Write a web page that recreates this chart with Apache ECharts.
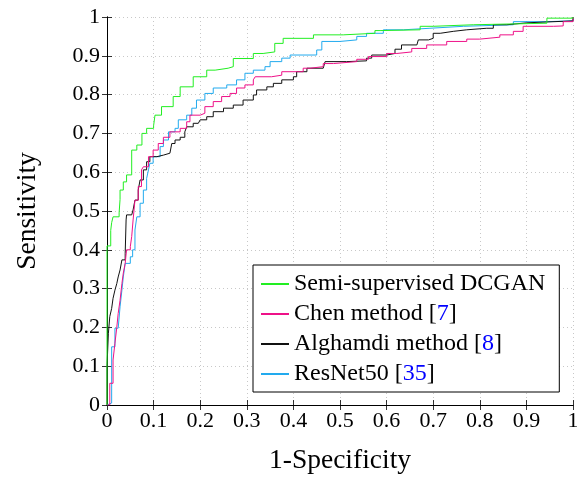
<!DOCTYPE html>
<html><head><meta charset="utf-8">
<script src="https://cdn.jsdelivr.net/npm/echarts@6/dist/echarts.min.js"></script>
<style>html,body{margin:0;padding:0;background:#fff}#c{width:577px;height:477px}</style>
</head><body><div id="c"></div>
<script>
const xTicks = [0,0.1,0.2,0.3,0.4,0.5,0.6,0.7,0.8,0.9,1];
const seriesNames = ['Semi-supervised DCGAN','Chen method [7]','Alghamdi method [8]','ResNet50 [35]'];
const dcgan = [[0,0],[0,0.17],[0,0.41],[0.003,0.41],[0.008,0.45],[0.01,0.47],[0.013,0.485],[0.026,0.495],[0.028,0.53],[0.028,0.554],[0.035,0.575],[0.042,0.593],[0.053,0.657],[0.064,0.67],[0.075,0.70],[0.085,0.713],[0.1,0.72],[0.103,0.747],[0.117,0.769],[0.142,0.795],[0.157,0.82],[0.185,0.846],[0.214,0.863],[0.232,0.868],[0.26,0.872],[0.271,0.893],[0.314,0.906],[0.335,0.91],[0.36,0.932],[0.378,0.945],[0.443,0.954],[0.507,0.958],[0.575,0.965],[0.586,0.967],[0.672,0.976],[0.7,0.98],[0.786,0.984],[0.944,0.997],[1,1]];
const chen = [[0,0],[0.006,0.056],[0.013,0.116],[0.017,0.159],[0.021,0.2],[0.024,0.236],[0.028,0.27],[0.032,0.313],[0.035,0.34],[0.039,0.365],[0.042,0.4],[0.05,0.408],[0.053,0.434],[0.056,0.477],[0.06,0.528],[0.067,0.563],[0.074,0.606],[0.078,0.614],[0.089,0.64],[0.099,0.657],[0.11,0.674],[0.121,0.69],[0.135,0.704],[0.157,0.713],[0.171,0.73],[0.178,0.747],[0.2,0.752],[0.21,0.769],[0.228,0.782],[0.246,0.795],[0.264,0.803],[0.278,0.817],[0.296,0.825],[0.314,0.838],[0.318,0.846],[0.353,0.85],[0.375,0.859],[0.421,0.868],[0.436,0.872],[0.464,0.88],[0.486,0.885],[0.536,0.891],[0.561,0.898],[0.6,0.906],[0.622,0.91],[0.654,0.919],[0.686,0.928],[0.729,0.937],[0.772,0.943],[0.8,0.948],[0.843,0.954],[0.872,0.963],[0.893,0.976],[0.958,0.977],[0.979,0.988],[1,1]];
const alghamdi = [[0,0],[0,0.1],[0.003,0.185],[0.006,0.228],[0.01,0.249],[0.013,0.275],[0.017,0.296],[0.021,0.313],[0.024,0.33],[0.028,0.348],[0.032,0.374],[0.039,0.39],[0.041,0.477],[0.042,0.49],[0.053,0.494],[0.056,0.503],[0.06,0.528],[0.067,0.554],[0.071,0.58],[0.078,0.606],[0.085,0.627],[0.092,0.64],[0.107,0.644],[0.121,0.649],[0.135,0.653],[0.139,0.674],[0.146,0.683],[0.157,0.69],[0.167,0.704],[0.171,0.717],[0.185,0.726],[0.196,0.73],[0.2,0.735],[0.214,0.743],[0.228,0.756],[0.25,0.765],[0.271,0.773],[0.292,0.786],[0.314,0.799],[0.321,0.812],[0.343,0.82],[0.357,0.829],[0.375,0.838],[0.4,0.846],[0.407,0.859],[0.429,0.868],[0.464,0.872],[0.468,0.885],[0.514,0.887],[0.557,0.894],[0.568,0.902],[0.6,0.906],[0.618,0.917],[0.632,0.928],[0.665,0.932],[0.668,0.941],[0.69,0.945],[0.7,0.958],[0.715,0.963],[0.743,0.967],[0.772,0.971],[0.815,0.971],[0.829,0.98],[0.858,0.985],[0.901,0.99],[1,1]];
const resnet = [[0,0],[0.001,0.005],[0.01,0.15],[0.017,0.198],[0.024,0.2],[0.028,0.253],[0.032,0.296],[0.035,0.33],[0.039,0.365],[0.05,0.382],[0.055,0.4],[0.06,0.451],[0.064,0.485],[0.071,0.52],[0.078,0.554],[0.085,0.584],[0.089,0.606],[0.092,0.623],[0.099,0.64],[0.114,0.666],[0.121,0.683],[0.132,0.704],[0.146,0.713],[0.153,0.735],[0.171,0.747],[0.182,0.765],[0.192,0.786],[0.21,0.803],[0.228,0.817],[0.257,0.825],[0.278,0.838],[0.296,0.855],[0.314,0.863],[0.339,0.872],[0.35,0.885],[0.375,0.894],[0.393,0.902],[0.45,0.915],[0.461,0.937],[0.5,0.941],[0.536,0.95],[0.557,0.958],[0.586,0.958],[0.593,0.967],[0.636,0.971],[0.693,0.976],[0.765,0.98],[0.872,0.988],[0.944,0.99],[1,1]];

const FONT = 'Liberation Serif';
const colors = ['#22ee22','#ee1188','#111111','#22aaee'];
const chart = echarts.init(document.getElementById('c'), null, {renderer:'canvas'});
function mkAxisBase(){
  return {type:'value', min:0, max:1, interval:0.1,
    axisLine:{show:true, lineStyle:{color:'#000', width:1}},
    axisTick:{show:true, inside:true, length:5, lineStyle:{color:'#000', width:0.8}},
  };
}
const refs = {'Chen method [7]':['Chen method [','7',']'],'Alghamdi method [8]':['Alghamdi method [','8',']'],'ResNet50 [35]':['ResNet50 [','35',']']};
const option = {
  animation:false,
  backgroundColor:'#fff',
  color: colors,
  grid:{left:107, right:4, top:17, bottom:72, containLabel:false, outerBoundsMode:'none'},
  xAxis:[
    Object.assign(mkAxisBase(), {position:'bottom', name:'1-Specificity', nameLocation:'middle', nameGap:42,
      nameTextStyle:{fontFamily:FONT, fontSize:27.5, color:'#000'},
      axisLabel:{fontFamily:FONT, fontSize:22, color:'#000', margin:5, formatter:v=>String(+v.toFixed(1))},
      splitLine:{show:true, lineStyle:{color:'#c8c8c8', type:[1,3], width:1}}}),
    Object.assign(mkAxisBase(), {position:'top', axisLabel:{show:false}, splitLine:{show:false}})
  ],
  yAxis:[
    Object.assign(mkAxisBase(), {position:'left', name:'Sensitivity', nameLocation:'middle', nameGap:65,
      nameTextStyle:{fontFamily:FONT, fontSize:27.5, color:'#000'},
      axisLabel:{fontFamily:FONT, fontSize:22, color:'#000', margin:7, formatter:v=>String(+v.toFixed(1))},
      splitLine:{show:true, lineStyle:{color:'#c8c8c8', type:[1,3], width:1}}}),
    Object.assign(mkAxisBase(), {position:'right', axisLabel:{show:false}, splitLine:{show:false}})
  ],
  legend:{
    orient:'vertical', left:253, top:265,
    backgroundColor:'#fff', borderColor:'#000', borderWidth:1, borderRadius:0,
    padding:[7,14,6,8], itemGap:6, itemWidth:28, itemHeight:2, icon:'rect',
    data: seriesNames,
    formatter: function(name){
      const r = refs[name];
      if(!r) return '{t|'+name+'}';
      return '{t|'+r[0]+'}{b|'+r[1]+'}{t|'+r[2]+'}';
    },
    textStyle:{fontFamily:FONT, fontSize:24, color:'#000', lineHeight:22,
      rich:{t:{fontFamily:FONT, fontSize:24, color:'#000', lineHeight:22},
            b:{fontFamily:FONT, fontSize:24, color:'#0000ff', lineHeight:22}}}
  },
  series:[
    {name:seriesNames[0], data:dcgan},
    {name:seriesNames[1], data:chen},
    {name:seriesNames[2], data:alghamdi},
    {name:seriesNames[3], data:resnet}
  ].map((s,i)=>Object.assign({type:'line', step:'end', showSymbol:false, symbol:'none', xAxisIndex:0, yAxisIndex:0,
     lineStyle:{width:1, color:colors[i]}, itemStyle:{color:colors[i]}, z:10-i}, s))
};
chart.setOption(option);
</script></body></html>
